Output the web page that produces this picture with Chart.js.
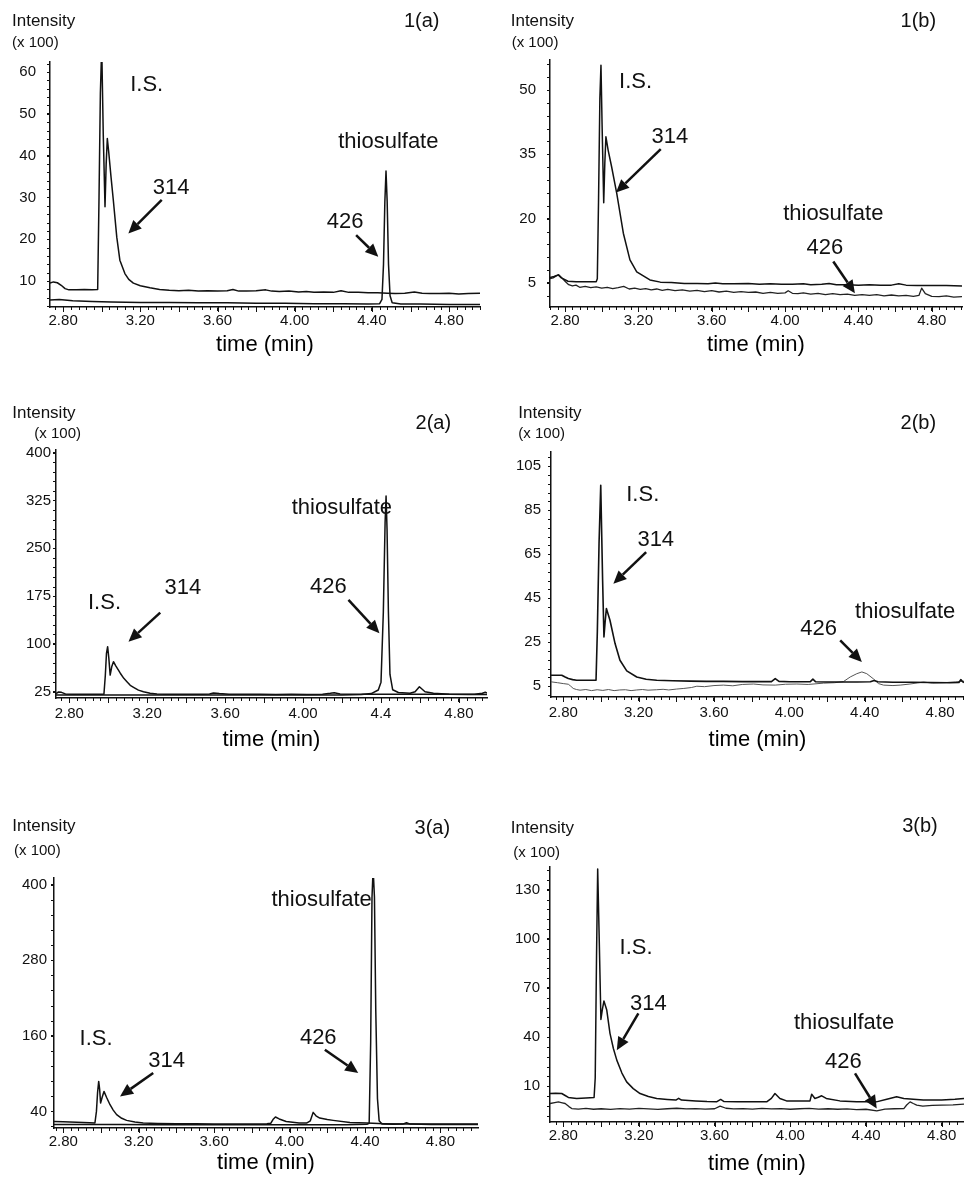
<!DOCTYPE html>
<html>
<head>
<meta charset="utf-8">
<script src="https://cdn.jsdelivr.net/npm/chart.js@4.4.1/dist/chart.umd.min.js"></script>
<style>
  html, body { margin: 0; padding: 0; background: #fff; }
  #wrap { position: relative; width: 964px; height: 1177px; overflow: hidden; }
  #wrap canvas { position: absolute; }
</style>
</head>
<body>
<div id="wrap"></div>
<script>
// time axis ticks (min)
const xTicks = [2.8, 3.2, 3.6, 4.0, 4.4, 4.8];
const xLabels = ['2.80', '3.20', '3.60', '4.00', '4.40', '4.80'];
const xLabels2a = ['2.80', '3.20', '3.60', '4.00', '4.4', '4.80'];

// intensity ticks (x 100)
const yTicks1a = [10, 20, 30, 40, 50, 60];
const yTicks1b = [5, 20, 35, 50];
const yTicks2a = [25, 100, 175, 250, 325, 400];
const yTicks2b = [5, 25, 45, 65, 85, 105];
const yTicks3a = [40, 160, 280, 400];
const yTicks3b = [10, 40, 70, 100, 130];

// traces: [time, intensity]
const p1a_314 = [[2.732,9.5],[2.75,9.8],[2.77,9.6],[2.79,9.0],[2.81,8.2],[2.83,7.9],[2.87,7.9],[2.91,8.0],[2.95,7.9],[2.979,8.0],[2.986,30],[2.993,55],[3.0,66],[3.008,45],[3.017,27.8],[3.023,38],[3.029,44.1],[3.036,41],[3.048,35],[3.06,29.4],[3.078,20.5],[3.094,15],[3.12,11.8],[3.14,10.4],[3.164,9.5],[3.2,8.9],[3.25,8.4],[3.3,8.0],[3.35,7.8],[3.4,7.7],[3.45,7.8],[3.5,7.6],[3.55,7.7],[3.6,7.6],[3.65,7.7],[3.68,8.0],[3.71,7.6],[3.75,7.6],[3.8,7.7],[3.85,7.9],[3.88,7.6],[3.92,7.5],[3.97,7.6],[4.02,7.4],[4.06,7.5],[4.1,7.3],[4.15,7.4],[4.2,7.3],[4.24,7.7],[4.28,7.3],[4.33,7.3],[4.38,7.2],[4.43,7.2],[4.48,7.1],[4.52,7.0],[4.57,7.1],[4.62,7.4],[4.66,7.1],[4.7,7.0],[4.75,7.0],[4.8,7.1],[4.85,6.9],[4.9,7.0],[4.96,7.1]];
const p1a_426 = [[2.732,5.5],[2.78,5.6],[2.85,5.3],[2.95,5.1],[3.05,5.0],[3.2,4.9],[3.35,4.9],[3.5,4.8],[3.65,4.8],[3.8,4.7],[3.95,4.7],[4.1,4.6],[4.25,4.6],[4.38,4.5],[4.44,4.6],[4.452,5.6],[4.46,14],[4.467,29],[4.473,36.3],[4.479,29],[4.486,14],[4.494,6.5],[4.505,4.8],[4.55,4.5],[4.65,4.5],[4.8,4.4],[4.96,4.4]];

const p1b_314 = [[2.718,6.3],[2.74,6.5],[2.763,6.9],[2.78,6.2],[2.816,5.4],[2.86,5.3],[2.92,5.3],[2.97,5.3],[2.976,6],[2.983,25],[2.99,48],[2.996,55.8],[3.002,42],[3.011,23.7],[3.017,33],[3.023,39.1],[3.035,36],[3.054,32.1],[3.082,25.9],[3.118,16.6],[3.154,10.4],[3.191,7.6],[3.263,5.7],[3.32,5.2],[3.38,5.1],[3.45,4.9],[3.52,4.9],[3.58,4.8],[3.62,5.0],[3.66,4.8],[3.72,4.8],[3.8,4.9],[3.86,4.7],[3.92,4.8],[3.98,4.7],[4.04,4.7],[4.1,4.8],[4.14,4.6],[4.2,4.7],[4.24,4.9],[4.28,4.6],[4.34,4.6],[4.4,4.5],[4.46,4.6],[4.52,4.5],[4.58,4.5],[4.62,4.8],[4.66,4.5],[4.72,4.4],[4.8,4.4],[4.88,4.4],[4.965,4.3]];
const p1b_426 = [[2.718,6.0],[2.735,6.2],[2.75,6.6],[2.765,6.9],[2.78,6.3],[2.8,5.4],[2.82,4.6],[2.84,4.3],[2.86,4.5],[2.88,4.0],[2.91,4.2],[2.94,3.9],[2.97,4.1],[3.0,3.8],[3.03,4.0],[3.06,3.7],[3.09,3.9],[3.12,4.2],[3.15,3.6],[3.18,3.8],[3.21,3.5],[3.24,3.7],[3.27,3.4],[3.3,3.6],[3.33,3.3],[3.36,3.5],[3.4,3.2],[3.44,3.4],[3.48,3.1],[3.52,3.3],[3.56,3.0],[3.6,3.2],[3.64,2.9],[3.68,3.1],[3.72,2.8],[3.76,3.0],[3.8,2.8],[3.84,2.9],[3.88,2.6],[3.92,2.8],[3.96,2.6],[4.0,2.7],[4.017,3.2],[4.04,2.6],[4.07,2.5],[4.1,2.7],[4.14,2.4],[4.18,2.6],[4.22,2.3],[4.26,2.5],[4.3,2.3],[4.34,2.4],[4.38,2.1],[4.42,2.3],[4.46,2.1],[4.5,2.3],[4.54,2.0],[4.58,2.2],[4.62,2.0],[4.66,2.1],[4.7,1.9],[4.73,2.1],[4.745,3.8],[4.765,2.5],[4.8,1.9],[4.84,1.8],[4.88,2.0],[4.92,1.7],[4.965,1.8]];

const p2a_314 = [[2.732,22],[2.745,24.5],[2.76,24],[2.78,21.5],[2.82,21],[2.88,21],[2.94,21],[2.978,21],[2.985,50],[2.991,85],[2.997,95.6],[3.003,78],[3.01,51],[3.018,64],[3.027,72],[3.038,66],[3.05,60],[3.062,54],[3.08,46],[3.096,40.7],[3.113,35],[3.13,31.9],[3.155,27.5],[3.181,25],[3.215,22.5],[3.25,21.4],[3.3,21],[3.36,20.8],[3.42,21],[3.48,20.8],[3.52,21.5],[3.54,23],[3.57,22],[3.62,21],[3.7,20.8],[3.78,21],[3.86,20.7],[3.94,20.8],[4.02,20.6],[4.1,20.8],[4.14,22.5],[4.16,23.5],[4.19,21.5],[4.26,21],[4.34,21],[4.42,21],[4.5,21],[4.6,21],[4.7,21],[4.8,20.8],[4.88,21],[4.92,22.5],[4.935,24],[4.944,23]];
const p2a_426 = [[2.732,20],[2.85,20],[3.0,20],[3.2,20],[3.4,20],[3.6,20],[3.8,20],[4.0,20],[4.2,20],[4.3,20.5],[4.35,22],[4.386,27.7],[4.4,40],[4.412,150],[4.421,290],[4.426,332],[4.431,280],[4.438,150],[4.446,52],[4.46,28],[4.489,23.8],[4.549,22.5],[4.575,25],[4.597,32.8],[4.626,25],[4.669,22.5],[4.75,21],[4.85,20.5],[4.944,20.5]];

const p2b_314 = [[2.735,10],[2.76,10],[2.792,10],[2.81,9.2],[2.827,8.5],[2.85,8.0],[2.871,7.7],[2.92,7.7],[2.974,7.7],[2.981,30],[2.99,70],[2.999,96.4],[3.009,53],[3.016,27.4],[3.022,34],[3.029,40.3],[3.048,35],[3.075,24.4],[3.101,16.8],[3.137,12],[3.19,9.2],[3.24,8.2],[3.296,7.7],[3.38,7.5],[3.473,7.3],[3.56,7.2],[3.65,7.2],[3.75,7.1],[3.85,7.1],[3.905,7.1],[3.925,8.5],[3.945,7.2],[4.0,7.0],[4.06,7.0],[4.11,7.0],[4.125,8.2],[4.14,7.0],[4.2,6.9],[4.28,6.9],[4.36,6.9],[4.43,7.0],[4.45,7.6],[4.47,7.0],[4.55,6.8],[4.65,6.8],[4.75,6.7],[4.85,6.6],[4.9,6.7],[4.91,8.0],[4.92,7.0],[4.927,6.7]];
const p2b_426 = [[2.735,7.0],[2.77,6.6],[2.8,6.2],[2.827,5.9],[2.84,5.0],[2.853,4.0],[2.87,3.5],[2.889,3.2],[2.92,3.5],[2.95,3.0],[2.98,3.4],[3.01,3.1],[3.04,3.5],[3.07,3.0],[3.1,3.3],[3.13,3.4],[3.16,3.0],[3.19,3.3],[3.22,3.5],[3.25,3.2],[3.296,3.4],[3.33,3.6],[3.36,3.3],[3.4,3.7],[3.44,4.0],[3.48,4.4],[3.509,5.0],[3.55,4.8],[3.6,5.3],[3.65,5.5],[3.7,5.2],[3.75,5.8],[3.81,6.0],[3.86,5.6],[3.925,5.5],[3.98,5.9],[4.04,6.0],[4.1,5.8],[4.181,6.4],[4.24,6.6],[4.287,7.1],[4.323,9.2],[4.358,10.7],[4.385,11.5],[4.411,10.7],[4.447,8.3],[4.473,6.2],[4.5,5.5],[4.55,5.3],[4.588,5.5],[4.64,6.0],[4.68,6.5],[4.712,6.9],[4.76,6.4],[4.82,6.6],[4.88,7.0],[4.927,7.3]];

const p3a_314 = [[2.751,24.1],[2.8,23.5],[2.871,22.6],[2.94,21.8],[2.968,21.5],[2.976,40],[2.982,70],[2.988,87.6],[2.993,75],[2.998,53.3],[3.006,62],[3.016,71.7],[3.03,62],[3.048,50.6],[3.065,42],[3.083,34.8],[3.11,29],[3.136,25.7],[3.18,23],[3.224,21.6],[3.3,20.8],[3.4,20.4],[3.5,20.2],[3.6,20.0],[3.7,20.0],[3.8,20.0],[3.88,20.2],[3.9,21],[3.912,27],[3.925,31],[3.945,28],[3.982,24],[4.05,21.5],[4.09,21.5],[4.11,25],[4.125,38.4],[4.14,33],[4.16,29.4],[4.2,27],[4.231,25.7],[4.32,22.5],[4.41,21.5],[4.5,20.5],[4.6,20.0],[4.7,20.0],[4.8,20.0],[4.9,20.0],[4.999,20.0]];
const p3a_426 = [[2.751,19.2],[2.9,19.0],[3.1,19.0],[3.3,18.9],[3.5,18.9],[3.7,18.9],[3.9,18.9],[4.1,18.9],[4.3,18.9],[4.41,19.5],[4.422,21],[4.43,150],[4.437,380],[4.443,425],[4.45,380],[4.457,200],[4.466,60],[4.475,25],[4.49,20],[4.55,19.5],[4.6,19.8],[4.62,22],[4.64,19.8],[4.75,19.2],[4.85,19.0],[4.999,19.0]];

const p3b_314 = [[2.73,5.5],[2.76,5.6],[2.792,5.5],[2.81,4.3],[2.827,3.1],[2.871,2.5],[2.92,2.8],[2.963,3.1],[2.969,15],[2.976,90],[2.982,142.7],[2.991,95.3],[2.999,50.8],[3.007,57],[3.015,62],[3.03,56.5],[3.047,42.3],[3.065,33],[3.083,25.9],[3.11,18],[3.135,12.6],[3.17,8.5],[3.206,5.5],[3.25,3.7],[3.294,2.5],[3.35,1.9],[3.395,1.5],[3.41,2.6],[3.425,1.5],[3.5,1.0],[3.56,0.6],[3.61,0.4],[3.632,1.9],[3.65,0.6],[3.72,0.4],[3.8,0.4],[3.875,0.4],[3.9,2.5],[3.919,5.5],[3.945,2.5],[3.98,1.0],[4.04,1.0],[4.104,1.0],[4.113,5.1],[4.13,2.5],[4.148,3.2],[4.166,4.1],[4.19,2.5],[4.262,1.0],[4.35,0.4],[4.455,0.4],[4.51,2.0],[4.562,3.5],[4.6,2.5],[4.65,2.0],[4.703,1.5],[4.8,1.5],[4.87,2.0],[4.918,2.5]];
const p3b_426 = [[2.73,-0.6],[2.755,0.0],[2.774,0.4],[2.795,-0.2],[2.81,-0.6],[2.83,-2.5],[2.845,-3.7],[2.88,-4.0],[2.92,-3.6],[2.96,-4.1],[3.0,-3.8],[3.05,-4.2],[3.1,-3.7],[3.15,-4.0],[3.2,-3.6],[3.25,-3.9],[3.3,-4.2],[3.35,-3.8],[3.4,-3.5],[3.45,-3.9],[3.5,-3.7],[3.55,-4.0],[3.6,-3.8],[3.629,-2.2],[3.66,-3.5],[3.7,-3.9],[3.75,-3.7],[3.8,-4.0],[3.85,-3.6],[3.9,-3.9],[3.95,-3.7],[4.0,-4.1],[4.05,-3.8],[4.1,-3.6],[4.15,-4.0],[4.2,-3.8],[4.25,-4.1],[4.3,-3.9],[4.35,-4.3],[4.4,-4.1],[4.457,-5.1],[4.5,-4.0],[4.55,-3.8],[4.6,-3.7],[4.615,-1.5],[4.633,0.4],[4.65,-0.6],[4.668,-1.6],[4.7,-2.2],[4.75,-1.8],[4.8,-1.6],[4.86,-1.4],[4.918,-1.0]];

const FONT = '"Liberation Sans", Arial, sans-serif';
Chart.defaults.font.family = FONT;
Chart.defaults.color = '#111';

// panel layout; notes/arrows are placed in data coordinates (time, intensity)
const panels = [
  { name: '1(a)', box: [0, 0, 490, 380], xMin: 2.732, xMax: 4.96, yMin: 3.8, yMax: 62.4, yTicks: yTicks1a, yStep: 10, xLabels: xLabels,
    pad: { left: 5, right: 10, top: 62, bottom: 22 }, yw: 45, xh: 51, xPad: 1, yPad: 11,
    head: [12, 21.7, 12, 43.3, 421.7, 21.7],
    traces: [{ d: p1a_314, c: '#111', w: 1.5 }, { d: p1a_426, c: '#111', w: 1.5 }],
    notes: [['I.S.', 3.233, 56.9], ['314', 3.359, 32.3], ['thiosulfate', 4.485, 43.3], ['426', 4.261, 24.2]],
    arrows: [[3.311, 29.4, 3.138, 21.4], [4.318, 21.0, 4.433, 15.8]] },
  { name: '1(b)', box: [490, 0, 474, 380], xMin: 2.718, xMax: 4.965, yMin: -0.6, yMax: 57, yTicks: yTicks1b, yStep: 15, xLabels: xLabels,
    pad: { left: 10, right: 2, top: 60, bottom: 22 }, yw: 50, xh: 51, xPad: 1, yPad: 11,
    head: [20.7, 21.7, 21.7, 43.3, 428.3, 21.7],
    traces: [{ d: p1b_314, c: '#111', w: 1.5 }, { d: p1b_426, c: '#222', w: 1.3 }],
    notes: [['I.S.', 3.185, 51.9], ['314', 3.372, 39.1], ['thiosulfate', 4.263, 21.1], ['426', 4.217, 13.1]],
    arrows: [[3.322, 36.2, 3.078, 26.1], [4.263, 10.0, 4.381, 2.6]] },
  { name: '2(a)', box: [0, 380, 490, 400], xMin: 2.732, xMax: 4.944, yMin: 15.1, yMax: 404.2, yTicks: yTicks2a, yStep: 75, xLabels: xLabels2a,
    pad: { left: 6, right: 3, top: 70, bottom: 27 }, yw: 50, xh: 55, xPad: 3, yPad: 2,
    head: [12.3, 33.3, 34.3, 54.3, 433.3, 43.3],
    traces: [{ d: p2a_314, c: '#111', w: 1.5 }, { d: p2a_426, c: '#111', w: 1.5 }],
    notes: [['thiosulfate', 4.199, 313.7], ['I.S.', 2.981, 164.7], ['314', 3.383, 187.2], ['426', 4.13, 188.8]],
    arrows: [[3.267, 149, 3.104, 103.5], [4.233, 168.9, 4.392, 116.6]] },
  { name: '2(b)', box: [490, 380, 474, 400], xMin: 2.735, xMax: 4.927, yMin: 0.1, yMax: 111.5, yTicks: yTicks2b, yStep: 20, xLabels: xLabels,
    pad: { left: 11, right: 0, top: 72, bottom: 27 }, yw: 50, xh: 56, xPad: 3, yPad: 7,
    head: [28.3, 33.3, 28.3, 54, 428.3, 43.3],
    traces: [{ d: p2b_314, c: '#111', w: 1.6 }, { d: p2b_426, c: '#555', w: 1 }],
    notes: [['I.S.', 3.222, 91.8], ['314', 3.291, 71.4], ['thiosulfate', 4.615, 38.8], ['426', 4.155, 31.2]],
    arrows: [[3.24, 66, 3.066, 51.6], [4.27, 25.9, 4.385, 16]] },
  { name: '3(a)', box: [0, 780, 490, 397], xMin: 2.751, xMax: 4.999, yMin: 13.6, yMax: 410.6, yTicks: yTicks3a, yStep: 120, xLabels: xLabels,
    pad: { left: 4, right: 12, top: 98, bottom: 1 }, yw: 50, xh: 48, xPad: 1, yPad: 4,
    head: [12.3, 46, 14, 70.7, 432.3, 48.3],
    traces: [{ d: p3a_314, c: '#111', w: 1.5 }, { d: p3a_426, c: '#111', w: 1.5 }],
    notes: [['thiosulfate', 4.17, 376], ['I.S.', 2.974, 154.9], ['314', 3.348, 119.4], ['426', 4.152, 156.5]],
    arrows: [[3.277, 101, 3.101, 63.8], [4.187, 138, 4.364, 101]] },
  { name: '3(b)', box: [490, 780, 474, 397], xMin: 2.73, xMax: 4.918, yMin: -11.9, yMax: 143.9, yTicks: yTicks3b, yStep: 30, xLabels: xLabels,
    pad: { left: 10, right: 0, top: 87, bottom: 0 }, yw: 50, xh: 55, xPad: 1, yPad: 7,
    head: [20.7, 48.3, 23.3, 72.7, 430, 46.7],
    traces: [{ d: p3b_314, c: '#111', w: 1.5 }, { d: p3b_426, c: '#222', w: 1.3 }],
    notes: [['I.S.', 3.185, 94.3], ['314', 3.25, 60.2], ['thiosulfate', 4.284, 48.8], ['426', 4.28, 24.9]],
    arrows: [[3.197, 54.5, 3.083, 32], [4.342, 17.8, 4.457, -3.7]] }
];

function arrow(ctx, x1, y1, x2, y2) {
  const ang = Math.atan2(y2 - y1, x2 - x1), hl = 13, hw = 6;
  const bx = x2 - hl * Math.cos(ang), by = y2 - hl * Math.sin(ang);
  ctx.lineWidth = 2.5;
  ctx.beginPath(); ctx.moveTo(x1, y1); ctx.lineTo(bx, by); ctx.stroke();
  ctx.beginPath();
  ctx.moveTo(x2, y2);
  ctx.lineTo(bx + hw * Math.sin(ang), by - hw * Math.cos(ang));
  ctx.lineTo(bx - hw * Math.sin(ang), by + hw * Math.cos(ang));
  ctx.closePath(); ctx.fill();
}

// minor ticks, header text, peak labels and arrows
function overlay(p) {
  return {
    id: 'overlay',
    afterDraw(chart) {
      const { ctx, chartArea: a, scales: { x, y } } = chart;
      ctx.save();
      ctx.fillStyle = '#111';
      ctx.strokeStyle = '#111';
      ctx.lineWidth = 1;
      ctx.beginPath();
      for (let k = Math.ceil(p.xMin * 25); k <= Math.floor(p.xMax * 25); k++) {
        const px = Math.round(x.getPixelForValue(k / 25)) + 0.5;
        ctx.moveTo(px, a.bottom);
        ctx.lineTo(px, a.bottom + (k % 5 === 0 ? 5 : 3));
      }
      const ys = p.yStep / 5, base = p.yTicks[0];
      for (let k = Math.ceil((p.yMin - base) / ys); k <= Math.floor((p.yMax - base) / ys); k++) {
        const py = Math.round(y.getPixelForValue(base + k * ys)) + 0.5;
        ctx.moveTo(a.left - 3, py);
        ctx.lineTo(a.left, py);
      }
      ctx.stroke();

      ctx.textBaseline = 'middle';
      ctx.textAlign = 'left';
      ctx.font = '17px ' + FONT;
      ctx.fillText('Intensity', p.head[0], p.head[1]);
      ctx.font = '15px ' + FONT;
      ctx.fillText('(x 100)', p.head[2], p.head[3]);
      ctx.textAlign = 'center';
      ctx.font = '20px ' + FONT;
      ctx.fillText(p.name, p.head[4], p.head[5]);

      ctx.font = '22px ' + FONT;
      p.notes.forEach(([txt, t, v]) => ctx.fillText(txt, x.getPixelForValue(t), y.getPixelForValue(v)));
      p.arrows.forEach(([t1, v1, t2, v2]) =>
        arrow(ctx, x.getPixelForValue(t1), y.getPixelForValue(v1), x.getPixelForValue(t2), y.getPixelForValue(v2)));
      ctx.restore();
    }
  };
}

const wrap = document.getElementById('wrap');
panels.forEach(p => {
  const c = document.createElement('canvas');
  c.width = p.box[2]; c.height = p.box[3];
  c.style.left = p.box[0] + 'px'; c.style.top = p.box[1] + 'px';
  c.style.width = p.box[2] + 'px'; c.style.height = p.box[3] + 'px';
  wrap.appendChild(c);
  new Chart(c, {
    type: 'line',
    data: {
      datasets: p.traces.map(tr => ({
        data: tr.d.map(([t, v]) => ({ x: t, y: v })),
        borderColor: tr.c,
        borderWidth: tr.w,
        borderJoinStyle: 'round',
        pointRadius: 0,
        tension: 0,
        fill: false
      }))
    },
    options: {
      responsive: false,
      animation: false,
      devicePixelRatio: 1,
      layout: { padding: p.pad },
      plugins: { legend: { display: false }, tooltip: { enabled: false } },
      scales: {
        x: {
          type: 'linear', min: p.xMin, max: p.xMax,
          afterBuildTicks: s => { s.ticks = xTicks.map(v => ({ value: v })); },
          afterFit: s => { s.height = p.xh; },
          ticks: { autoSkip: false, maxRotation: 0, padding: p.xPad, font: { size: 15 }, color: '#111',
                   callback: (v, i) => p.xLabels[i] },
          grid: { drawOnChartArea: false, tickLength: 4, color: '#111' },
          border: { color: '#111', width: 1.5 },
          title: { display: true, text: 'time (min)', font: { size: 22 }, color: '#000', padding: 0 }
        },
        y: {
          type: 'linear', min: p.yMin, max: p.yMax,
          afterBuildTicks: s => { s.ticks = p.yTicks.map(v => ({ value: v })); },
          afterFit: s => { s.width = p.yw; },
          ticks: { padding: p.yPad, font: { size: 15 }, color: '#111', callback: v => String(v) },
          grid: { drawOnChartArea: false, tickLength: 3, color: '#111' },
          border: { color: '#111', width: 1.5 }
        }
      }
    },
    plugins: [overlay(p)]
  });
});
</script>
</body>
</html>
